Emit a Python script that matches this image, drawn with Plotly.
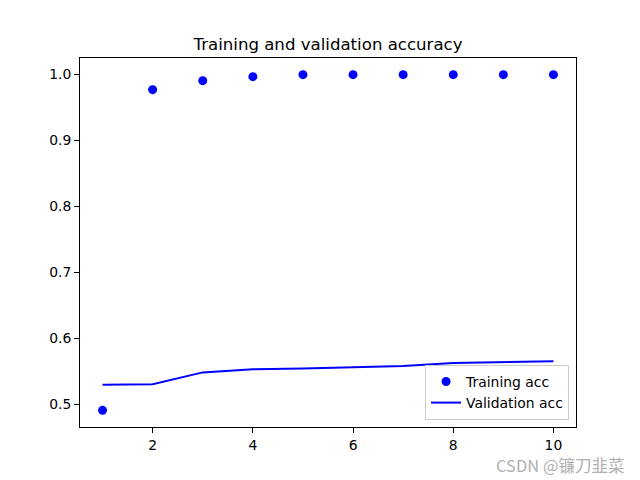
import plotly.graph_objects as go

epochs = [1, 2, 3, 4, 5, 6, 7, 8, 9, 10]
train_acc = [0.4905, 0.9768, 0.9904, 0.9965, 0.9995, 0.9995, 0.9995, 0.9995, 0.9995, 0.9995]
val_acc = [0.5292, 0.5300, 0.5480, 0.5526, 0.5540, 0.5556, 0.5576, 0.5621, 0.5636, 0.5650]
x_ticks = [2, 4, 6, 8, 10]
y_ticks = [0.5, 0.6, 0.7, 0.8, 0.9, 1.0]

font = "DejaVu Sans"
fig = go.Figure()
fig.add_trace(go.Scatter(x=epochs, y=train_acc, mode="markers", name="Training acc",
                         marker=dict(color="#0000ff", size=9, line=dict(width=0))))
fig.add_trace(go.Scatter(x=epochs, y=val_acc, mode="lines", name="Validation acc",
                         line=dict(color="#0000ff", width=2)))

axis_common = dict(showline=True, mirror=True, linecolor="black", linewidth=1,
                   ticks="outside", ticklen=5, tickwidth=1, tickcolor="black",
                   showgrid=False, zeroline=False,
                   tickfont=dict(family=font, size=13.9, color="black"))
fig.update_layout(
    width=640, height=480,
    margin=dict(l=80, r=64, t=58, b=53),
    paper_bgcolor="white", plot_bgcolor="white",
    title=dict(text="Training and validation accuracy", x=(80 + 576) / 2 / 640, xanchor="center",
               y=1 - 44 / 480, yanchor="middle",
               font=dict(family=font, size=16.6, color="black")),
    xaxis=dict(range=[0.55, 10.45], tickvals=x_ticks, **axis_common),
    yaxis=dict(range=[0.4652, 1.0248], tickvals=y_ticks, tickformat=".1f", **axis_common),
    legend=dict(x=0.986, y=0.019, xanchor="right", yanchor="bottom",
                bgcolor="rgba(255,255,255,0.8)", bordercolor="#cccccc", borderwidth=1,
                font=dict(family=font, size=13.9, color="black"),
                tracegroupgap=0, itemwidth=30),
    showlegend=True,
    annotations=[dict(text="CSDN @镰刀韭菜", xref="paper", yref="paper",
                      x=1.0, y=0, showarrow=False, borderpad=0,
                      xanchor="right", yanchor="middle",
                      xshift=50, yshift=-(465 - 427),
                      font=dict(family="Noto Sans CJK SC", size=16.5, color="#b0b0b0"))],
)
fig.write_html("out.html")
